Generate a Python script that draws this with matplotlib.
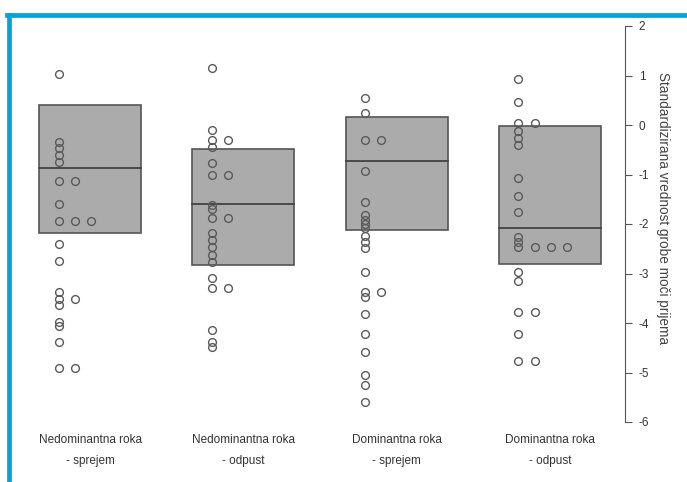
import numpy as np
import matplotlib.pyplot as plt
from matplotlib.lines import Line2D

plt.rcParams['font.family'] = ['Liberation Sans Narrow', 'Liberation Sans', 'DejaVu Sans']
plt.rcParams['axes.unicode_minus'] = False

skupine = ['Nedominantna roka\n- sprejem', 'Nedominantna roka\n- odpust',
           'Dominantna roka\n- sprejem', 'Dominantna roka\n- odpust']

# okvirji (spodnja meja, sredina, zgornja meja)
spodaj = [-2.18, -2.83, -2.12, -2.81]
sredina = [-0.87, -1.60, -0.73, -2.08]
zgoraj = [0.40, -0.48, 0.16, -0.02]

# posamezne vrednosti
g1 = [1.03, -0.34, -0.47, -0.61, -0.74, -1.13, -1.13, -1.60, -1.93, -1.93, -1.93,
      -2.41, -2.75, -3.37, -3.52, -3.52, -3.64, -3.97, -4.07, -4.38, -4.90, -4.90]
g2 = [1.15, -0.10, -0.30, -0.30, -0.45, -0.77, -1.02, -1.02, -1.62, -1.70, -1.87, -1.87,
      -2.18, -2.32, -2.46, -2.63, -2.76, -3.10, -3.30, -3.30, -4.14, -4.38, -4.48]
g3 = [0.54, 0.24, -0.30, -0.30, -0.92, -1.55, -1.82, -1.91, -2.00, -2.09, -2.24, -2.36,
      -2.49, -2.96, -3.38, -3.38, -3.48, -3.82, -4.22, -4.58, -5.05, -5.25, -5.60]
g4 = [0.93, 0.47, 0.05, 0.05, -0.13, -0.27, -0.40, -1.08, -1.43, -1.75, -2.26, -2.36,
      -2.46, -2.46, -2.46, -2.46, -2.96, -3.15, -3.78, -3.78, -4.22, -4.77, -4.77]
vrednosti = [g1, g2, g3, g4]

W, H = 687, 482
fig = plt.figure(figsize=(W / 100, H / 100), dpi=100)
ax = fig.add_axes([20 / W, (H - 422) / H, 605 / W, 396 / H])

poz = np.arange(1, 5)
sirina = 0.665
for i, p in enumerate(poz):
    ax.bar(p, zgoraj[i] - spodaj[i], bottom=spodaj[i], width=sirina,
           color='#ababab', edgecolor='#555555', linewidth=1.2, zorder=1)
    ax.plot([p - sirina / 2, p + sirina / 2], [sredina[i]] * 2,
            color='#4a4a4a', lw=1.4, zorder=2)

    # zlaganje enakih vrednosti v desno
    stevec = {}
    xs = []
    for v in vrednosti[i]:
        k = stevec.get(v, 0)
        stevec[v] = k + 1
        xs.append(p - 0.205 + 0.105 * k)
    ax.plot(xs, vrednosti[i], 'o', mfc='none', mec='#5a5a5a', ms=5.6, mew=1.0,
            zorder=3, clip_on=False)

ax.set_xlim(0.543, 4.49)
ax.set_ylim(-6, 2)
for s in ['top', 'bottom', 'left']:
    ax.spines[s].set_visible(False)
ax.spines['right'].set_color('#555555')
ax.yaxis.tick_right()
ax.yaxis.set_label_position('right')
ax.set_yticks(range(-6, 3))
ax.tick_params(axis='y', length=5, color='#555555', labelsize=8.5, labelcolor='#333333', pad=5)
ax.set_xticks([])
ax.set_ylabel('Standardizirana vrednost grobe moči prijema', rotation=270,
              fontsize=9.8, color='#444444')
ax.yaxis.set_label_coords(1.075, 0.54)

for i, p in enumerate(poz):
    ax.text(p, -6.24, skupine[i], ha='center', va='top', fontsize=8.5,
            color='#333333', linespacing=2.0)

modra = '#00a3d6'
fig.add_artist(Line2D([7 / W, 1], [1 - 14.5 / H] * 2, color=modra, lw=3.4,
                      transform=fig.transFigure))
fig.add_artist(Line2D([9 / W] * 2, [0, 1 - 14.5 / H], color=modra, lw=3.4,
                      transform=fig.transFigure))

fig.savefig('out.png', dpi=100)
